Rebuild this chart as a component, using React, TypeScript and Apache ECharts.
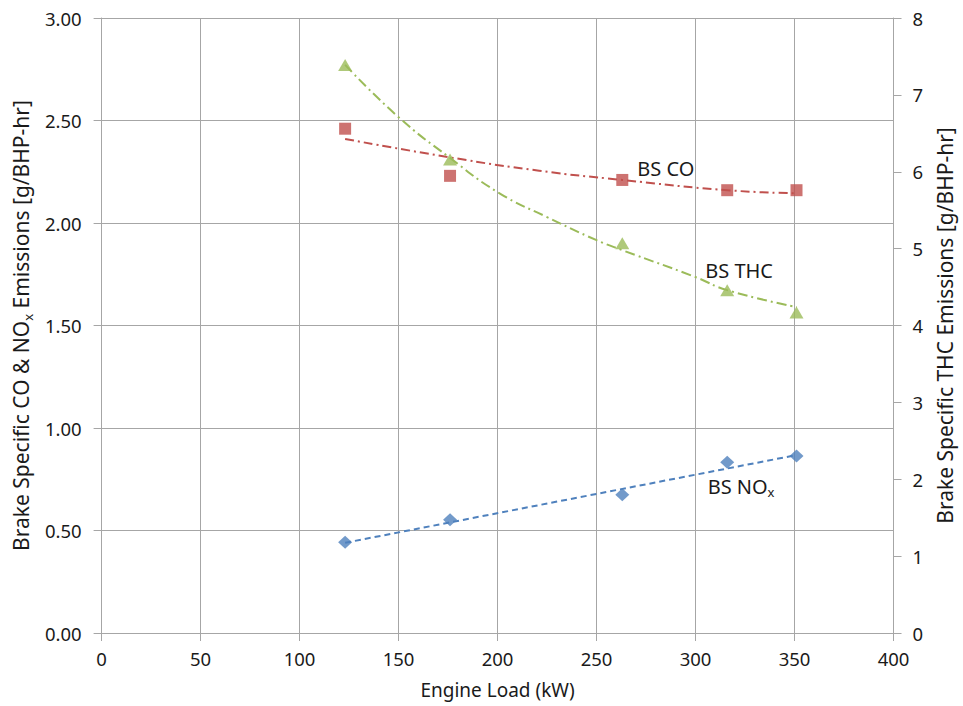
import React, { useEffect, useRef } from "react";
import * as echarts from "echarts";

// Measured data (engine load in kW)
const loadKW = [123, 176, 263, 316, 351];
const coValues = [2.46, 2.23, 2.21, 2.16, 2.16];
const noxValues = [0.443, 0.552, 0.674, 0.833, 0.864];
const thcValues = [7.39, 6.16, 5.07, 4.46, 4.17];

// Trendlines
const coTrendX = [123, 176, 221, 263, 316, 351];
const coTrendY = [2.41, 2.32, 2.255, 2.21, 2.16, 2.145];
const thcTrendX = [123, 150, 176, 201, 225, 250, 263, 300, 316, 351];
const thcTrendY = [7.39, 6.71, 6.18, 5.72, 5.41, 5.11, 4.98, 4.63, 4.46, 4.24];
const noxTrendX = [123, 351];
const noxTrendY = [0.44, 0.868];

// Axis ranges
const xRange = [0, 400, 50];
const leftRange = [0, 3, 0.5];
const rightRange = [0, 8, 1];

// In-plot labels (data coords on left axis)
const labelTexts = ["BS CO", "BS THC", "BS NO{sub|x}"];
const labelX = [285, 322, 323];
const labelY = [2.267, 1.77, 0.715];

const FONT = "Noto Sans";
const GRID_COLOR = "#a6a6a6";
const TEXT_COLOR = "#1a1a1a";
const CO_COLOR = "#C0504D";
const THC_COLOR = "#9BBB59";
const NOX_COLOR = "#4F81BD";

const zip = (a: number[], b: number[]) => a.map((v, i) => [v, b[i]]);

export default function App() {
  const ref = useRef<HTMLDivElement>(null);
  useEffect(() => {
    if (!ref.current) return;
    const chart = echarts.init(ref.current, undefined, { renderer: "svg" });
    const axisLine = { show: true, lineStyle: { color: GRID_COLOR, width: 1 } };
    const axisTick = { show: true, length: 8, inside: false, lineStyle: { color: GRID_COLOR } };
    const option: any = {
      animation: false,
      backgroundColor: "#ffffff",
      textStyle: { fontFamily: FONT },
      grid: { left: 95, right: 61, top: 18, bottom: 73, containLabel: false },
      xAxis: {
        type: "value",
        min: xRange[0],
        max: xRange[1],
        interval: xRange[2],
        name: "Engine Load (kW)",
        nameLocation: "middle",
        nameGap: 47,
        nameTextStyle: { fontSize: 19, color: TEXT_COLOR, fontFamily: FONT },
        axisLine,
        axisTick,
        axisLabel: { fontSize: 18.5, color: TEXT_COLOR, margin: 16, fontFamily: FONT },
        splitLine: { show: true, lineStyle: { color: GRID_COLOR, width: 1 } },
      },
      yAxis: [
        {
          type: "value",
          position: "left",
          min: leftRange[0],
          max: leftRange[1],
          interval: leftRange[2],
          name: "Brake Specific CO & NO{sub|x} Emissions [g/BHP-hr]",
          nameLocation: "middle",
          nameGap: 61,
          nameRotate: 90,
          nameTextStyle: {
            fontSize: 21,
            color: TEXT_COLOR,
            fontFamily: FONT,
            lineHeight: 26,
            rich: {
              sub: { fontSize: 13, lineHeight: 13, verticalAlign: "bottom", color: TEXT_COLOR, fontFamily: FONT },
            },
          },
          axisLine,
          axisTick,
          axisLabel: {
            fontSize: 18.5,
            color: TEXT_COLOR,
            margin: 20,
            fontFamily: FONT,
            formatter: (v: number) => v.toFixed(2),
          },
          splitLine: { show: true, lineStyle: { color: GRID_COLOR, width: 1 } },
        },
        {
          type: "value",
          position: "right",
          min: rightRange[0],
          max: rightRange[1],
          interval: rightRange[2],
          name: "Brake Specific THC Emissions [g/BHP-hr]",
          nameLocation: "middle",
          nameGap: 38,
          nameRotate: 90,
          nameTextStyle: { fontSize: 21, color: TEXT_COLOR, fontFamily: FONT },
          axisLine,
          axisTick,
          axisLabel: { fontSize: 18.5, color: TEXT_COLOR, margin: 19, fontFamily: FONT },
          splitLine: { show: false },
        },
      ],
      series: [
        {
          name: "CO trend",
          type: "line",
          yAxisIndex: 0,
          data: zip(coTrendX, coTrendY),
          smooth: true,
          showSymbol: false,
          lineStyle: { color: CO_COLOR, width: 2, type: [9, 4, 2, 4] },
          z: 2,
        },
        {
          name: "THC trend",
          type: "line",
          yAxisIndex: 1,
          data: zip(thcTrendX, thcTrendY),
          smooth: true,
          showSymbol: false,
          lineStyle: { color: THC_COLOR, width: 2, type: [10, 4, 2, 4] },
          z: 2,
        },
        {
          name: "NOx trend",
          type: "line",
          yAxisIndex: 0,
          data: zip(noxTrendX, noxTrendY),
          showSymbol: false,
          lineStyle: { color: NOX_COLOR, width: 2, type: [6, 4] },
          z: 2,
        },
        {
          name: "BS CO",
          type: "scatter",
          yAxisIndex: 0,
          data: zip(loadKW, coValues),
          symbol: "rect",
          symbolSize: 12,
          itemStyle: { color: CO_COLOR },
          z: 3,
        },
        {
          name: "BS THC",
          type: "scatter",
          yAxisIndex: 1,
          data: zip(loadKW, thcValues),
          symbol: "triangle",
          symbolSize: [14, 12],
          itemStyle: { color: THC_COLOR },
          z: 3,
        },
        {
          name: "BS NOx",
          type: "scatter",
          yAxisIndex: 0,
          data: zip(loadKW, noxValues),
          symbol: "diamond",
          symbolSize: [14, 13],
          itemStyle: { color: NOX_COLOR },
          z: 3,
        },
      ],
    };
    chart.setOption(option);

    const graphics = labelTexts.map((t, i) => {
      const p = chart.convertToPixel({ xAxisIndex: 0, yAxisIndex: 0 }, [labelX[i], labelY[i]]) as number[];
      return {
        type: "text",
        x: p[0],
        y: p[1],
        z: 10,
        style: {
          text: t,
          fontSize: 20,
          fontFamily: FONT,
          fill: TEXT_COLOR,
          align: "center",
          verticalAlign: "middle",
          lineHeight: 25,
          rich: {
            sub: { fontSize: 13, lineHeight: 13, verticalAlign: "bottom", fill: TEXT_COLOR, fontFamily: FONT },
          },
        },
      };
    });
    chart.setOption({ graphic: graphics });

    return () => chart.dispose();
  }, []);

  return (
    <div
      ref={ref}
      style={{ position: "fixed", left: 0, top: 0, width: 963, height: 706, background: "#fff" }}
    />
  );
}
